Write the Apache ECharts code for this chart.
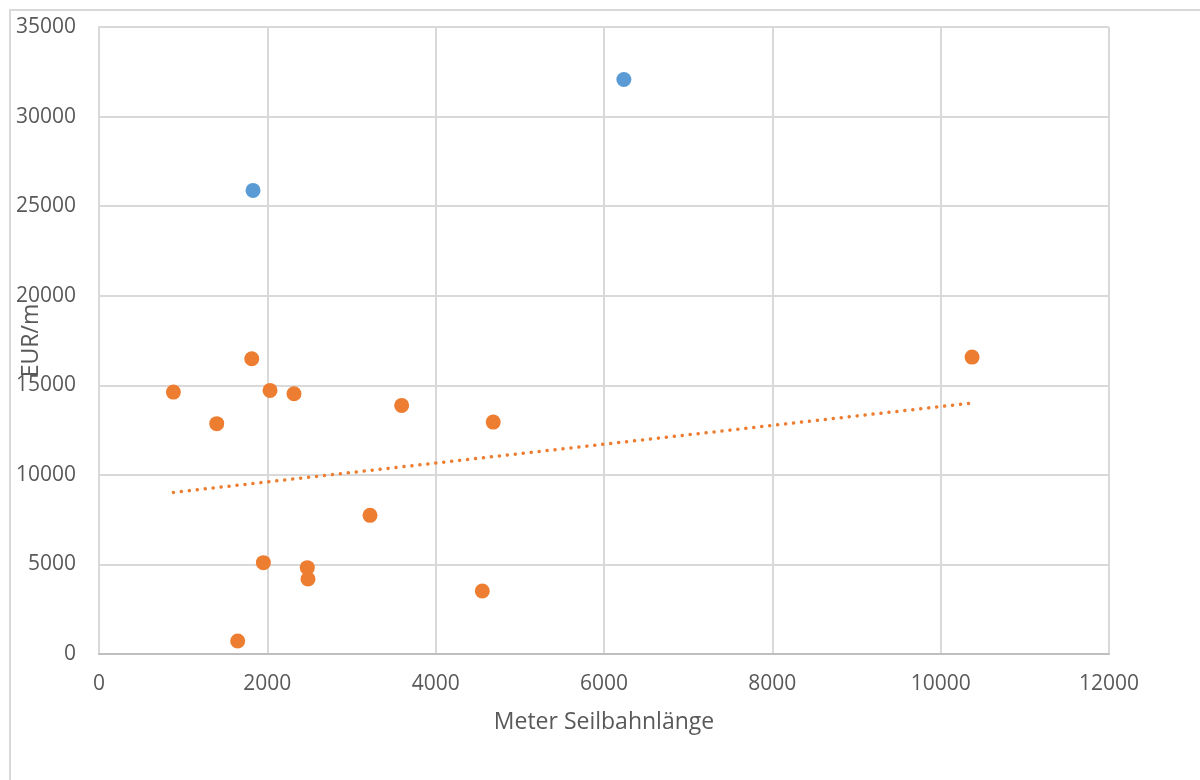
<!DOCTYPE html>
<html>
<head>
<meta charset="utf-8">
<script src="https://cdn.jsdelivr.net/npm/echarts@6/dist/echarts.min.js"></script>
<style>
  html, body { margin: 0; padding: 0; background: #ffffff; }
  #chart { width: 1200px; height: 780px; }
</style>
</head>
<body>
<div id="chart"></div>
<script>
// Cable cars: length in metres vs. cost per metre (EUR/m)
const orangeLength = [884, 1815, 1399, 2032, 2317, 3596, 4684, 10373, 3220, 1953, 2475, 2483, 4554, 1648];
const orangeCost   = [14621, 16484, 12857, 14715, 14531, 13878, 12946, 16574, 7740, 5100, 4821, 4185, 3516, 725];

// Outliers shown in blue
const blueLength = [1830, 6236];
const blueCost   = [25880, 32070];

// Linear trend of the orange group (end points)
const trendLength = [884, 10373];
const trendCost   = [9020, 14010];

const xTicks = [0, 2000, 4000, 6000, 8000, 10000, 12000];
const yTicks = [0, 5000, 10000, 15000, 20000, 25000, 30000, 35000];

const xName = 'Meter Seilbahnlänge';
const yName = 'EUR/m';

const FONT = '"Open Sans", "Liberation Sans", sans-serif';
const TEXT_COLOR = '#595959';
const GRID_COLOR = '#d9d9d9';

const zip = (xs, ys) => xs.map((x, i) => [x, ys[i]]);
const plain = v => String(v);

const chart = echarts.init(document.getElementById('chart'), null, { renderer: 'canvas' });

chart.setOption({
  animation: false,
  backgroundColor: '#ffffff',
  graphic: [{
    type: 'rect',
    shape: { x: 10, y: 10, width: 1220, height: 800 },
    style: { fill: 'none', stroke: GRID_COLOR, lineWidth: 2 },
    silent: true,
    z: -10
  }],
  grid: { left: 99, right: 91, top: 27, bottom: 126, containLabel: false, outerBoundsMode: 'none' },
  xAxis: {
    type: 'value',
    min: xTicks[0],
    max: xTicks[xTicks.length - 1],
    interval: xTicks[1] - xTicks[0],
    name: xName,
    nameLocation: 'middle',
    nameGap: 57,
    nameMoveOverlap: false,
    nameTextStyle: { fontFamily: FONT, fontSize: 23, color: TEXT_COLOR },
    axisLine: { show: true, lineStyle: { color: '#bfbfbf', width: 2 } },
    axisTick: { show: false },
    axisLabel: { fontFamily: FONT, fontSize: 21, color: TEXT_COLOR, margin: 20, formatter: plain },
    splitLine: { show: true, lineStyle: { color: GRID_COLOR, width: 2 } }
  },
  yAxis: {
    type: 'value',
    min: yTicks[0],
    max: yTicks[yTicks.length - 1],
    interval: yTicks[1] - yTicks[0],
    name: yName,
    nameLocation: 'middle',
    nameGap: 56,
    nameRotate: 90,
    nameMoveOverlap: false,
    nameTextStyle: { fontFamily: FONT, fontSize: 23, color: TEXT_COLOR },
    axisLine: { show: true, lineStyle: { color: GRID_COLOR, width: 2 } },
    axisTick: { show: false },
    axisLabel: { fontFamily: FONT, fontSize: 21, color: TEXT_COLOR, margin: 23, formatter: plain },
    splitLine: { show: true, lineStyle: { color: GRID_COLOR, width: 2 } }
  },
  series: [
    {
      name: 'Trend',
      type: 'line',
      data: zip(trendLength, trendCost),
      symbol: 'none',
      silent: true,
      z: 1,
      lineStyle: { color: '#ED7D31', width: 3.5, type: [0.1, 7.9], cap: 'round' }
    },
    {
      name: 'Seilbahnen',
      type: 'scatter',
      data: zip(orangeLength, orangeCost),
      symbolSize: 15,
      z: 3,
      itemStyle: { color: '#ED7D31', opacity: 1 }
    },
    {
      name: 'Ausreißer',
      type: 'scatter',
      data: zip(blueLength, blueCost),
      symbolSize: 15,
      z: 3,
      itemStyle: { color: '#5B9BD5', opacity: 1 }
    }
  ]
});
</script>
</body>
</html>
